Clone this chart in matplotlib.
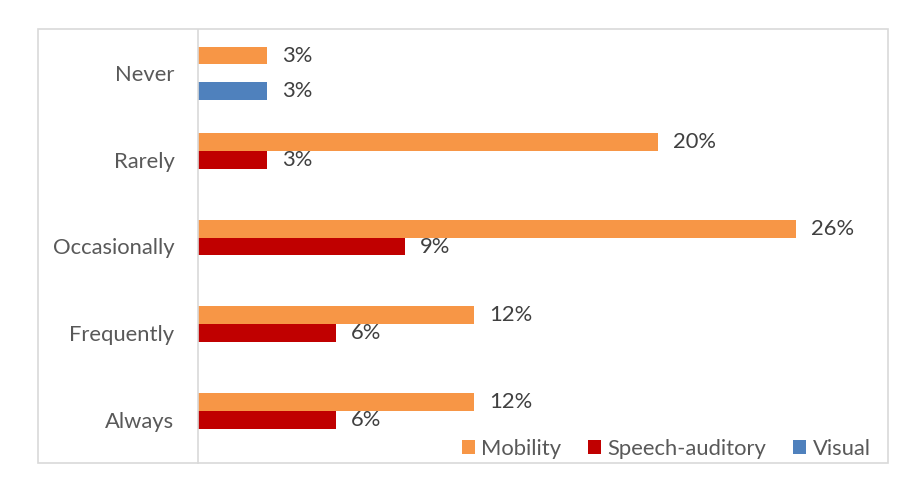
import matplotlib
matplotlib.use('Agg')
import matplotlib.pyplot as plt
import numpy as np
from matplotlib.patches import Rectangle, Patch

categories = ['Never', 'Rarely', 'Occasionally', 'Frequently', 'Always']
series_names = ['Mobility', 'Speech-auditory', 'Visual']
mobility = [3, 20, 26, 12, 12]
speech = [None, 3, 9, 6, 6]
visual = [3, None, None, None, None]
colors = ['#F79646', '#C00000', '#4F81BD']

plt.rcParams['font.family'] = ['Lato', 'DejaVu Sans']
FS = 15.8

W, H = 915, 482
fig = plt.figure(figsize=(W / 100, H / 100), dpi=100)
ax = fig.add_axes([198 / W, 19 / H, 690 / W, 433 / H])

pos = np.arange(len(categories))
bh = 0.205
offsets = [-bh, 0, bh]
for series, name, col, off in zip([mobility, speech, visual], series_names, colors, offsets):
    for i, v in enumerate(series):
        if v is None:
            continue
        ax.barh(pos[i] + off, v, height=bh, color=col, edgecolor='none')
        ax.annotate(f'{v}%', xy=(v, pos[i] + off), xytext=(11, 0), textcoords='offset points',
                    ha='left', va='center', fontsize=FS, color='#404040')

ax.set_xlim(0, 30)
ax.set_ylim(len(categories) - 0.5, -0.5)
ax.set_yticks(pos)
ax.set_yticklabels(categories, fontsize=FS, color='#595959')
ax.tick_params(axis='y', length=0, pad=17)
ax.set_xticks([])
for s in ['top', 'right', 'bottom']:
    ax.spines[s].set_visible(False)
ax.spines['left'].set_color('#D9D9D9')
ax.spines['left'].set_linewidth(1.2)
ax.patch.set_alpha(0)

fig.patches.append(Rectangle((38 / W, 19 / H), 850 / W, 434 / H, transform=fig.transFigure,
                             fill=False, edgecolor='#D9D9D9', linewidth=1.2, zorder=0))

handles = [Patch(facecolor=c, edgecolor='none') for c in colors]
leg = fig.legend(handles, series_names, loc='center', bbox_to_anchor=(666 / W, 33 / H), ncol=3,
                 frameon=False, handlelength=0.6, handleheight=0.6, handletextpad=0.3,
                 columnspacing=1.2, fontsize=FS, borderaxespad=0, borderpad=0)
for t in leg.get_texts():
    t.set_color('#595959')

fig.savefig('out.png', dpi=100)
